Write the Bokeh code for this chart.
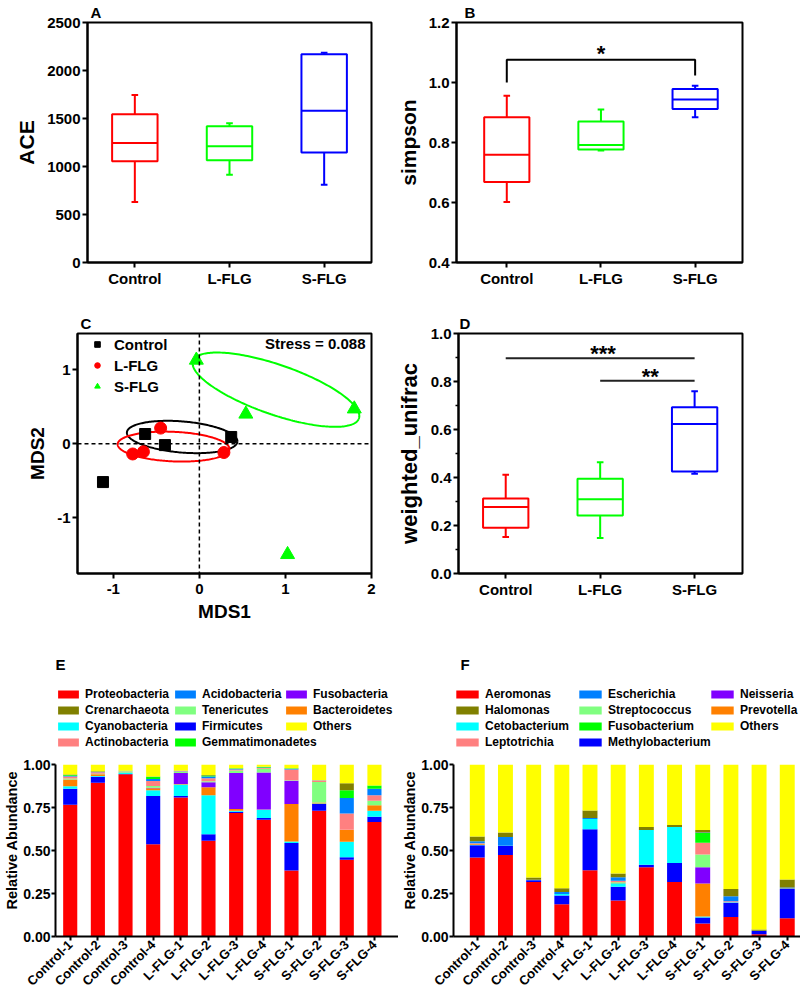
import numpy as np
from bokeh.plotting import figure
from bokeh.layouts import column, row
from bokeh.models import (Range1d, Label, Legend, LegendItem, FixedTicker, Title,
                          ColumnDataSource, Span, NumeralTickFormatter)
from bokeh.embed import file_html
from bokeh.resources import INLINE

FONT = "Liberation Sans"

# ---------------- data ----------------
groups = ["Control", "L-FLG", "S-FLG"]
group_x = [1, 2, 3]
group_colors = ["#FF0000", "#00FF00", "#0000FF"]

# Panel A: ACE (whisker low, Q1, median, Q3, whisker high)
ace_low = [630, 915, 810]
ace_q1 = [1055, 1065, 1145]
ace_med = [1245, 1210, 1580]
ace_q3 = [1545, 1420, 2168]
ace_high = [1745, 1450, 2185]
ace_ticks = [0, 500, 1000, 1500, 2000, 2500]

# Panel B: simpson
simp_low = [0.602, 0.773, 0.884]
simp_q1 = [0.668, 0.777, 0.912]
simp_med = [0.759, 0.792, 0.943]
simp_q3 = [0.884, 0.870, 0.978]
simp_high = [0.956, 0.910, 0.989]
simp_ticks = [0.4, 0.6, 0.8, 1.0, 1.2]
simp_bracket_x = [1, 1, 3, 3]
simp_bracket_y = [1.0, 1.076, 1.076, 1.023]
simp_star = "*"
simp_star_y = 1.096

# Panel C: NMDS
ctrl_x = [-1.12, -0.63, -0.40, 0.37]
ctrl_y = [-0.52, 0.13, -0.02, 0.09]
lflg_x = [-0.775, -0.65, -0.45, 0.285]
lflg_y = [-0.14, -0.11, 0.21, -0.12]
sflg_x = [-0.035, 0.54, 1.80, 1.025]
sflg_y = [1.13, 0.40, 0.47, -1.50]
ell_cx = [-0.20, -0.30, 0.89]
ell_cy = [0.09, -0.04, 0.73]
ell_a = [0.645, 0.65, 1.04]
ell_b = [0.21, 0.20, 0.33]
ell_angle = [-5.8, -3.0, -22.6]
ell_colors = ["black", "#FF0000", "#00FF00"]
mds_xticks = [-1, 0, 1, 2]
mds_yticks = [-1, 0, 1]
stress_text = "Stress = 0.088"

# Panel D: weighted_unifrac
wu_low = [0.152, 0.148, 0.416]
wu_q1 = [0.191, 0.242, 0.425]
wu_med = [0.277, 0.309, 0.623]
wu_q3 = [0.312, 0.395, 0.693]
wu_high = [0.411, 0.464, 0.759]
wu_ticks = [0.0, 0.2, 0.4, 0.6, 0.8, 1.0]
wu_minor = [0.1, 0.3, 0.5, 0.7, 0.9]
wu_sig_x0 = [1, 2]
wu_sig_x1 = [3, 3]
wu_sig_y = [0.897, 0.803]
wu_star_y = [0.917, 0.820]
wu_sig_text = ["***", "**"]

# Panel E: phylum
samples = ["Control-1", "Control-2", "Control-3", "Control-4",
           "L-FLG-1", "L-FLG-2", "L-FLG-3", "L-FLG-4",
           "S-FLG-1", "S-FLG-2", "S-FLG-3", "S-FLG-4"]
Proteobacteria = [0.767, 0.895, 0.945, 0.538, 0.810, 0.557, 0.720, 0.680, 0.385, 0.733, 0.447, 0.667]
Firmicutes = [0.093, 0.035, 0.002, 0.280, 0.008, 0.038, 0.007, 0.010, 0.160, 0.038, 0.015, 0.031]
Cyanobacteria = [0.015, 0.005, 0.008, 0.034, 0.067, 0.227, 0.005, 0.048, 0.008, 0.003, 0.090, 0.035]
Bacteroidetes = [0.040, 0.010, 0.002, 0.012, 0.003, 0.047, 0.010, 0.002, 0.218, 0.006, 0.070, 0.032]
Fusobacteria = [0.000, 0.000, 0.000, 0.003, 0.065, 0.030, 0.210, 0.215, 0.136, 0.000, 0.000, 0.000]
Tenericutes = [0.005, 0.003, 0.005, 0.010, 0.007, 0.005, 0.015, 0.022, 0.003, 0.120, 0.000, 0.025]
Actinobacteria = [0.012, 0.008, 0.002, 0.028, 0.003, 0.018, 0.005, 0.005, 0.063, 0.008, 0.095, 0.032]
Acidobacteria = [0.004, 0.002, 0.001, 0.013, 0.002, 0.010, 0.005, 0.003, 0.004, 0.002, 0.090, 0.038]
Gemmatimonadetes = [0.005, 0.002, 0.001, 0.012, 0.001, 0.006, 0.003, 0.003, 0.003, 0.000, 0.045, 0.019]
Crenarchaeota = [0.002, 0.002, 0.000, 0.002, 0.000, 0.002, 0.000, 0.000, 0.000, 0.000, 0.040, 0.000]
Others_E = [0.057, 0.038, 0.034, 0.068, 0.034, 0.060, 0.020, 0.012, 0.020, 0.090, 0.108, 0.121]

phyla_names = ["Proteobacteria", "Firmicutes", "Cyanobacteria", "Bacteroidetes", "Fusobacteria",
               "Tenericutes", "Actinobacteria", "Acidobacteria", "Gemmatimonadetes",
               "Crenarchaeota", "Others"]
phyla_values = [Proteobacteria, Firmicutes, Cyanobacteria, Bacteroidetes, Fusobacteria,
                Tenericutes, Actinobacteria, Acidobacteria, Gemmatimonadetes,
                Crenarchaeota, Others_E]
phyla_colors = ["#FF0000", "#0000FF", "#00FFFF", "#FF8000", "#8000FF",
                "#80FF80", "#FF8080", "#0080FF", "#00FF00", "#808000", "#FFFF00"]
legend_E_cols = [["Proteobacteria", "Crenarchaeota", "Cyanobacteria", "Actinobacteria"],
                 ["Acidobacteria", "Tenericutes", "Firmicutes", "Gemmatimonadetes"],
                 ["Fusobacteria", "Bacteroidetes", "Others"]]

# Panel F: genus
Aeromonas = [0.460, 0.475, 0.318, 0.188, 0.386, 0.210, 0.403, 0.318, 0.075, 0.113, 0.013, 0.107]
Methylobacterium = [0.072, 0.052, 0.010, 0.051, 0.239, 0.080, 0.015, 0.110, 0.036, 0.083, 0.019, 0.170]
Cetobacterium = [0.003, 0.002, 0.000, 0.008, 0.060, 0.020, 0.203, 0.210, 0.006, 0.003, 0.000, 0.000]
Prevotella = [0.005, 0.000, 0.000, 0.000, 0.000, 0.005, 0.000, 0.000, 0.192, 0.000, 0.000, 0.002]
Neisseria = [0.000, 0.000, 0.000, 0.000, 0.000, 0.000, 0.000, 0.000, 0.094, 0.000, 0.000, 0.000]
Streptococcus = [0.000, 0.000, 0.000, 0.000, 0.000, 0.003, 0.000, 0.000, 0.075, 0.000, 0.000, 0.000]
Leptotrichia = [0.003, 0.000, 0.000, 0.000, 0.000, 0.005, 0.000, 0.000, 0.068, 0.006, 0.000, 0.000]
Fusobacterium = [0.000, 0.000, 0.000, 0.000, 0.000, 0.002, 0.000, 0.000, 0.057, 0.000, 0.000, 0.000]
Escherichia = [0.012, 0.051, 0.003, 0.012, 0.005, 0.020, 0.000, 0.000, 0.003, 0.030, 0.002, 0.006]
Halomonas = [0.027, 0.026, 0.012, 0.022, 0.044, 0.022, 0.017, 0.012, 0.015, 0.042, 0.007, 0.047]
Others_F = [0.418, 0.394, 0.657, 0.719, 0.266, 0.633, 0.362, 0.350, 0.379, 0.723, 0.959, 0.668]

genus_names = ["Aeromonas", "Methylobacterium", "Cetobacterium", "Prevotella", "Neisseria",
               "Streptococcus", "Leptotrichia", "Fusobacterium", "Escherichia",
               "Halomonas", "Others"]
genus_values = [Aeromonas, Methylobacterium, Cetobacterium, Prevotella, Neisseria,
                Streptococcus, Leptotrichia, Fusobacterium, Escherichia, Halomonas, Others_F]
genus_colors = ["#FF0000", "#0000FF", "#00FFFF", "#FF8000", "#8000FF",
                "#80FF80", "#FF8080", "#00FF00", "#0080FF", "#808000", "#FFFF00"]
legend_F_cols = [["Aeromonas", "Halomonas", "Cetobacterium", "Leptotrichia"],
                 ["Escherichia", "Streptococcus", "Fusobacterium", "Methylobacterium"],
                 ["Neisseria", "Prevotella", "Others"]]
rel_ticks = [0.0, 0.25, 0.5, 0.75, 1.0]


# ---------------- helpers ----------------
def style_axes(p, tick_size="15px"):
    for ax in p.axis:
        ax.axis_line_width = 2
        ax.axis_line_color = "black"
        ax.major_tick_line_width = 2
        ax.major_tick_line_color = "black"
        ax.major_tick_out = 5
        ax.major_tick_in = 0
        ax.minor_tick_out = 0
        ax.minor_tick_in = 0
        ax.minor_tick_line_width = 1.5
        ax.major_label_text_font = FONT
        ax.major_label_text_font_style = "bold"
        ax.major_label_text_font_size = tick_size
        ax.major_label_text_color = "black"
        ax.major_label_standoff = 2
        ax.axis_label_text_font = FONT
        ax.axis_label_text_font_style = "bold"
        ax.axis_label_text_color = "black"
        ax.axis_label_standoff = 6


def make_fig(w, h, bl, br, bt, bb, xr, yr, outline=True):
    p = figure(width=w, height=h, x_range=Range1d(*xr), y_range=Range1d(*yr),
               output_backend="svg", toolbar_location=None,
               min_border_left=bl, min_border_right=br,
               min_border_top=bt, min_border_bottom=bb)
    p.xgrid.visible = False
    p.ygrid.visible = False
    p.outline_line_color = "black" if outline else None
    p.outline_line_width = 2
    p.outline_line_alpha = 1.0
    p.background_fill_color = "white"
    p.border_fill_color = "white"
    style_axes(p)
    return p


def panel_title(p, text, offset):
    p.title.text = text
    p.title.align = "left"
    p.title.offset = offset
    p.title.text_font = FONT
    p.title.text_font_style = "bold"
    p.title.text_font_size = "15px"
    p.title.text_color = "black"
    p.title.standoff = 3


def add_text(p, x, y, text, size, units="screen", align="left", baseline="top", angle=0.0):
    p.add_layout(Label(x=x, y=y, x_units=units, y_units=units, text=text,
                       text_font=FONT, text_font_style="bold", text_font_size=size,
                       text_align=align, text_baseline=baseline, angle=angle,
                       text_color="black"))


def box_plot(p, low, q1, med, q3, high):
    bw, cw = 0.48, 0.07
    src = ColumnDataSource(dict(
        x=group_x, low=low, q1=q1, med=med, q3=q3, high=high, color=group_colors,
        bl=[x - bw / 2 for x in group_x], br=[x + bw / 2 for x in group_x],
        cl=[x - cw / 2 for x in group_x], cr=[x + cw / 2 for x in group_x]))
    kw = dict(source=src, line_color="color", line_width=2)
    p.segment(x0="x", y0="q3", x1="x", y1="high", **kw)
    p.segment(x0="x", y0="low", x1="x", y1="q1", **kw)
    p.segment(x0="cl", y0="high", x1="cr", y1="high", **kw)
    p.segment(x0="cl", y0="low", x1="cr", y1="low", **kw)
    p.quad(left="bl", right="br", bottom="q1", top="q3", fill_color=None, **kw)
    p.segment(x0="bl", y0="med", x1="br", y1="med", **kw)
    p.xaxis.ticker = FixedTicker(ticks=group_x)
    p.xaxis.major_label_overrides = {x: g for x, g in zip(group_x, groups)}


def column_legend(p, items, vx, vy, font_size, gw, gh, lh, spacing, standoff):
    lg = Legend(items=items, location=(vx, vy), orientation="vertical",
                glyph_width=gw, glyph_height=gh,
                label_text_font=FONT, label_text_font_style="bold",
                label_text_font_size=font_size, label_text_color="black",
                label_height=lh, label_standoff=standoff, spacing=spacing,
                padding=0, margin=0, border_line_color=None,
                background_fill_alpha=0.0)
    p.add_layout(lg)


def stacked_panel(p, names, values, colors, bar_w, legend_cols, leg_vx, leg_vy, gw):
    xs = list(range(1, len(samples) + 1))
    data = {"x": xs}
    for n, v in zip(names, values):
        data[n] = v
    src = ColumnDataSource(data)
    rends = p.vbar_stack(names, x="x", width=bar_w, color=colors, line_color=None, source=src)
    rmap = dict(zip(names, rends))
    for col, vx, vy in zip(legend_cols, leg_vx, leg_vy):
        items = [LegendItem(label=n, renderers=[rmap[n]]) for n in col]
        column_legend(p, items, vx, vy, "12px", gw, 10, 16, 0, 4)
    p.xaxis.ticker = FixedTicker(ticks=xs)
    p.xaxis.major_label_overrides = {x: s for x, s in zip(xs, samples)}
    p.xaxis.major_label_orientation = np.pi / 4
    p.xaxis.major_label_text_font_size = "13px"
    p.xaxis.major_tick_out = 4
    p.yaxis.ticker = FixedTicker(ticks=rel_ticks)
    p.yaxis.bounds = (0, 1)
    p.yaxis.formatter = NumeralTickFormatter(format="0.00")
    p.yaxis.major_label_text_font_size = "14px"
    p.yaxis.major_tick_out = 4
    p.yaxis.major_label_standoff = 1
    # y-axis title placed on the left side, aligned with the bounded (0..1) axis part
    p.add_layout(Title(text="Relative Abundance", align="left", offset=27,
                       text_font=FONT, text_font_style="bold", text_font_size="14.5px",
                       text_color="black", standoff=2), "left")


# ---------------- Panel A ----------------
pa = make_fig(393, 292, 87, 22, 22, 30, (0.5, 3.5), (0, 2500))
box_plot(pa, ace_low, ace_q1, ace_med, ace_q3, ace_high)
pa.yaxis.ticker = FixedTicker(ticks=ace_ticks)
pa.yaxis.axis_label = "ACE"
pa.yaxis.axis_label_text_font_size = "21px"
panel_title(pa, "A", 3)

# ---------------- Panel B ----------------
pb = make_fig(407, 292, 59, 58, 22, 30, (0.466, 3.503), (0.4, 1.2))
box_plot(pb, simp_low, simp_q1, simp_med, simp_q3, simp_high)
pb.yaxis.ticker = FixedTicker(ticks=simp_ticks)
pb.yaxis.formatter = NumeralTickFormatter(format="0.0")
pb.yaxis.axis_label = "simpson"
pb.yaxis.axis_label_text_font_size = "21px"
pb.line(simp_bracket_x, simp_bracket_y, line_color="black", line_width=2)
add_text(pb, 2.0, simp_star_y, simp_star, "22px", units="data", align="center", baseline="alphabetic")
panel_title(pb, "B", 8)

# ---------------- Panel C ----------------
pc = make_fig(393, 338, 77, 22, 40, 52, (-1.416, 2.0), (-1.757, 1.49))
pc.add_layout(Span(location=0, dimension="height", line_color="black", line_width=1.5, line_dash="4 3"))
pc.add_layout(Span(location=0, dimension="width", line_color="black", line_width=1.5, line_dash="4 3"))
t = np.linspace(0, 2 * np.pi, 240)
for cx, cy, a, b, ang, col in zip(ell_cx, ell_cy, ell_a, ell_b, ell_angle, ell_colors):
    th = np.deg2rad(ang)
    ex = cx + a * np.cos(t) * np.cos(th) - b * np.sin(t) * np.sin(th)
    ey = cy + a * np.cos(t) * np.sin(th) + b * np.sin(t) * np.cos(th)
    pc.line(ex, ey, line_color=col, line_width=2)
r_ctrl = pc.scatter(ctrl_x, ctrl_y, marker="square", size=11, color="black")
r_lflg = pc.scatter(lflg_x, lflg_y, marker="circle", size=12, color="#FF0000")
r_sflg = pc.scatter(sflg_x, sflg_y, marker="triangle", size=14, color="#00FF00")
column_legend(pc, [LegendItem(label="Control", renderers=[r_ctrl]),
                   LegendItem(label="L-FLG", renderers=[r_lflg]),
                   LegendItem(label="S-FLG", renderers=[r_sflg])],
              13, 177, "15px", 14, 14, 20, 1, 10)
pc.xaxis.ticker = FixedTicker(ticks=mds_xticks)
pc.yaxis.ticker = FixedTicker(ticks=mds_yticks)
pc.xaxis.major_label_overrides = {v: str(v) for v in mds_xticks}
pc.yaxis.major_label_overrides = {v: str(v) for v in mds_yticks}
pc.xaxis.major_label_standoff = 5
pc.xaxis.axis_label = "MDS1"
pc.yaxis.axis_label = "MDS2"
pc.xaxis.axis_label_text_font_size = "19px"
pc.yaxis.axis_label_text_font_size = "19px"
pc.xaxis.axis_label_standoff = 4
add_text(pc, 1.93, 1.35, stress_text, "15px", units="data", align="right", baseline="middle")
panel_title(pc, "C", 3)

# ---------------- Panel D ----------------
pdd = make_fig(407, 338, 65, 58, 41, 57, (0.5, 3.507), (0.0, 1.0))
box_plot(pdd, wu_low, wu_q1, wu_med, wu_q3, wu_high)
pdd.yaxis.ticker = FixedTicker(ticks=wu_ticks, minor_ticks=wu_minor)
pdd.yaxis.minor_tick_out = 3
pdd.yaxis.formatter = NumeralTickFormatter(format="0.0")
pdd.yaxis.axis_label = "weighted_unifrac"
pdd.yaxis.axis_label_text_font_size = "22px"
pdd.segment(x0=wu_sig_x0, y0=wu_sig_y, x1=wu_sig_x1, y1=wu_sig_y, line_color="#222222", line_width=2)
for x0, x1, ys, s in zip(wu_sig_x0, wu_sig_x1, wu_star_y, wu_sig_text):
    add_text(pdd, (x0 + x1) / 2 + 0.03, ys, s, "22px", units="data", align="center", baseline="alphabetic")
panel_title(pdd, "D", 1)

# ---------------- Panel E (legend inside extended frame) ----------------
rel_top = 1.724
pe = make_fig(398, 366, 53, 0, 10, 56, (0.468, 12.87), (0.0, rel_top), outline=False)
stacked_panel(pe, phyla_names, phyla_values, phyla_colors, 0.51,
              legend_E_cols, [0, 117, 228], [186, 186, 202], 26)
add_text(pe, 0, 281, "E", "15px")

# ---------------- Panel F ----------------
pf = make_fig(402, 366, 52, 0, 10, 56, (0.156, 12.47), (0.0, rel_top), outline=False)
stacked_panel(pf, genus_names, genus_values, genus_colors, 0.53,
              legend_F_cols, [0, 123, 255], [186, 186, 202], 28)
add_text(pf, 7, 281, "F", "15px")

layout = column(row(pa, pb), row(pc, pdd), row(pe, pf))
open("out.html", "w").write(file_html(layout, INLINE))
